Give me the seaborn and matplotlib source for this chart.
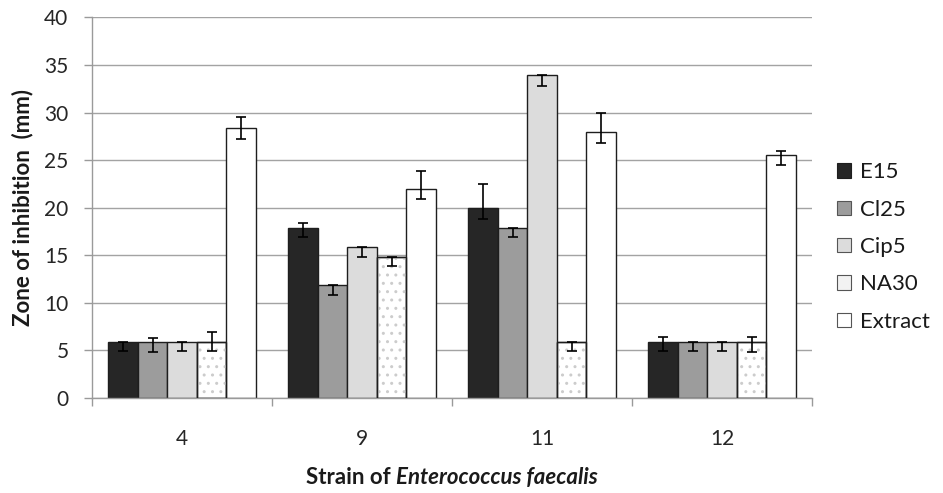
import pandas as pd
import matplotlib.pyplot as plt
import seaborn as sns
from matplotlib.patches import Rectangle, Patch

# Datos
strains = ["4", "9", "11", "12"]
agents = ["E15", "Cl25", "Cip5", "NA30", "Extract"]

e15 = [5.86, 17.88, 19.98, 5.86]
cl25 = [5.86, 11.91, 17.84, 5.86]
cip5 = [5.86, 15.91, 33.93, 5.86]
na30 = [5.86, 14.86, 5.86, 5.86]
extract = [28.36, 22.01, 27.97, 25.55]

# barras de error (abajo / arriba)
err_low = {
    "E15": [0.95, 0.95, 1.19, 0.95],
    "Cl25": [0.99, 1.11, 0.94, 0.95],
    "Cip5": [0.95, 1.11, 1.13, 0.95],
    "NA30": [0.95, 1.01, 0.95, 0.99],
    "Extract": [1.13, 1.12, 1.12, 1.05],
}
err_high = {
    "E15": [0.0, 0.49, 2.52, 0.5],
    "Cl25": [0.48, 0.0, 0.0, 0.0],
    "Cip5": [0.0, 0.0, 0.0, 0.0],
    "NA30": [1.08, 0.0, 0.0, 0.53],
    "Extract": [1.16, 1.83, 1.97, 0.45],
}

colors = ["#262626", "#9c9c9c", "#dcdcdc", "#ffffff", "#ffffff"]

sns.set_theme(style="white")
plt.rcParams["font.family"] = ["Lato", "DejaVu Sans"]

values = {"E15": e15, "Cl25": cl25, "Cip5": cip5, "NA30": na30, "Extract": extract}
rows = []
for a in agents:
    for s, v in zip(strains, values[a]):
        rows.append({"strain": s, "agent": a, "zone": v})
df = pd.DataFrame(rows)

fig = plt.figure(figsize=(9.43, 4.93), dpi=100)
ax = fig.add_axes([0.0976, 0.1927, 0.7635, 0.772])

sns.barplot(data=df, x="strain", y="zone", hue="agent", order=strains,
            hue_order=agents, palette=colors, width=0.82, errorbar=None,
            edgecolor="#1e1e1e", linewidth=1.0, legend=False, ax=ax, zorder=2)

# puntos para NA30
for bar in ax.containers[3]:
    ax.add_patch(Rectangle((bar.get_x(), 0), bar.get_width(), bar.get_height(),
                           facecolor="none", edgecolor="#cccccc", hatch="..",
                           linewidth=0, zorder=2.5))
    ax.add_patch(Rectangle((bar.get_x(), 0), bar.get_width(), bar.get_height(),
                           facecolor="none", edgecolor="#1e1e1e",
                           linewidth=1.0, zorder=2.6))

for i, a in enumerate(agents):
    xs = [b.get_x() + b.get_width() / 2 for b in ax.containers[i]]
    ax.errorbar(xs, values[a], yerr=[err_low[a], err_high[a]], fmt="none",
                ecolor="black", elinewidth=1.2, capsize=3.5, capthick=1.2,
                zorder=4)

ax.set_ylim(0, 40)
ax.set_xlim(-0.5, 3.5)
ax.set_yticks(range(0, 41, 5))
ax.set_axisbelow(True)
ax.yaxis.grid(True, color="#a3a3a3", linewidth=1.0)
ax.xaxis.grid(False)

for side in ["top", "right"]:
    ax.spines[side].set_visible(False)
for side in ["left", "bottom"]:
    ax.spines[side].set_color("#9a9a9a")
    ax.spines[side].set_linewidth(1.0)

ax.set_xticks([-0.5, 0.5, 1.5, 2.5, 3.5], minor=True)
ax.tick_params(axis="x", which="major", length=0, pad=22, labelsize=15,
               labelcolor="#262626")
ax.tick_params(axis="x", which="minor", length=6, width=1, color="#9a9a9a",
               direction="out", bottom=True)
ax.tick_params(axis="y", length=6, width=1, color="#9a9a9a", direction="out",
               left=True, pad=11, labelsize=15, labelcolor="#262626")
ax.set_xlabel("")
ax.set_ylabel("Zone of inhibition  (mm)", fontsize=16, fontweight="bold",
              color="#1a1a1a", labelpad=8)

# título del eje x con parte en cursiva
renderer = fig.canvas.get_renderer()
fs = 16
t1 = fig.text(0, 0.018, "Strain of", fontsize=fs, fontweight="bold",
              color="#1a1a1a", va="baseline")
t2 = fig.text(0, 0.018, "Enterococcus faecalis", fontsize=fs,
              fontweight="bold", style="italic", color="#1a1a1a", va="baseline")
tmp1 = fig.text(0, 0, "a a", fontsize=fs, fontweight="bold")
tmp2 = fig.text(0, 0, "aa", fontsize=fs, fontweight="bold")
space = tmp1.get_window_extent(renderer).width - tmp2.get_window_extent(renderer).width
tmp1.remove()
tmp2.remove()
w1 = t1.get_window_extent(renderer).width
w2 = t2.get_window_extent(renderer).width
W = fig.bbox.width
left = 452 - (w1 + space + w2) / 2
t1.set_x(left / W)
t2.set_x((left + w1 + space) / W)

handles = [Patch(facecolor=c, edgecolor="#555555", linewidth=0.8) for c in colors]
handles[3] = Patch(facecolor="#f2f2f2", edgecolor="#555555", linewidth=0.8)
handles[0] = Patch(facecolor=colors[0], edgecolor="#1e1e1e", linewidth=0.8)
fig.legend(handles, agents, loc="center left", bbox_to_anchor=(0.888, 0.499),
           frameon=False, fontsize=16, handlelength=0.6, handleheight=0.6,
           handletextpad=0.4, labelspacing=0.78, borderpad=0,
           borderaxespad=0, labelcolor="#1a1a1a")

fig.savefig("out.png", dpi=100)
